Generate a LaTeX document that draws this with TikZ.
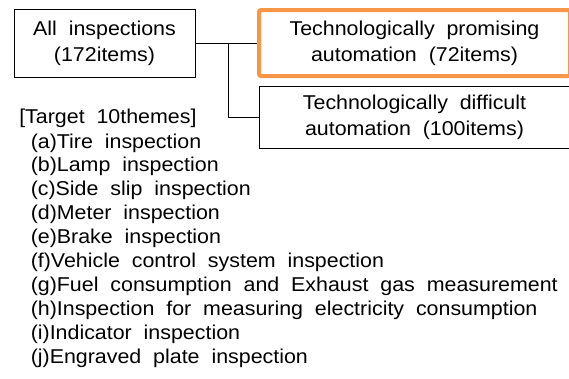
\documentclass[tikz,border=0pt]{standalone}
\usepackage{fontspec}
\setmainfont{Liberation Sans}[WordSpace=2]
\usepackage{graphicx}
\definecolor{orng}{HTML}{F79646}
\newcommand\sx[1]{\scalebox{1.07}[1]{#1}}
\begin{document}
\begin{tikzpicture}[x=0.75pt,y=-0.75pt,
 box/.style={draw=black,line width=0.75pt,inner sep=0pt,align=center,font=\fontsize{15pt}{19.5pt}\selectfont},
 hot/.style={box,draw=orng,line width=3pt,rounded corners=1.5pt},
 item/.style={anchor=base west,inner sep=0pt,font=\fontsize{15pt}{18pt}\selectfont},
 conn/.style={line width=0.75pt}]
\useasboundingbox (0,0) rectangle (569,379);
\clip (0,0) rectangle (569,379);
\fill[white] (0,0) rectangle (569,379);
\node[box,minimum width=135.75pt,minimum height=51pt] (all) at (104.5,43) {\sx{All inspections}\\\sx{(172items)}};
\node[hot,minimum width=233.25pt,minimum height=49.5pt] (prom) at (414.5,43) {\sx{Technologically promising}\\\sx{automation (72items)}};
\node[box,minimum width=233.25pt,minimum height=46.1pt] (diff) at (414.5,117.5) {\sx{Technologically difficult}\\\sx{automation (100items)}};
\coordinate (j) at (228,43);
\draw[conn] (all.east) -- (prom.west);
\draw[conn] (j) |- (diff.west);
\node[item] (target) at (19,123) {\sx{[Target 10themes]}};
\foreach \t [count=\i] in {(a)Tire inspection,(b)Lamp inspection,(c)Side slip inspection,(d)Meter inspection,(e)Brake inspection,(f)Vehicle control system inspection,(g)Fuel consumption and Exhaust gas measurement,(h)Inspection for measuring electricity consumption,(i)Indicator inspection,(j)Engraved plate inspection}
  \node[item] (item\i) at (30.5,{148+(\i-1)*23.9}) {\sx{\t}};
\end{tikzpicture}
\end{document}
